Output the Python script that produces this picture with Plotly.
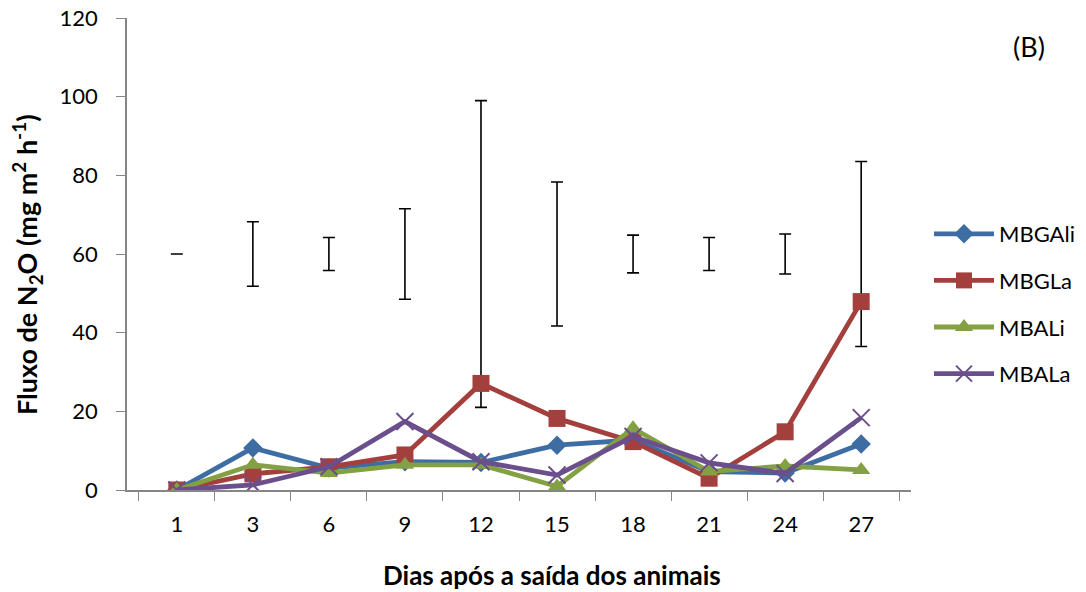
import plotly.graph_objects as go

days = ["1", "3", "6", "9", "12", "15", "18", "21", "24", "27"]
mbgali = [0, 10.7, 5.6, 7.2, 7.0, 11.4, 12.7, 4.7, 4.3, 11.7]
mbgla = [0, 4.1, 5.9, 8.9, 27.1, 18.2, 12.3, 3.0, 14.8, 47.9]
mbali = [0, 6.4, 4.3, 6.4, 6.4, 0.9, 15.7, 4.7, 6.1, 5.1]
mbala = [0, 1.3, 5.9, 17.4, 7.2, 3.8, 13.6, 6.9, 4.2, 18.4]
err_center = [60, 60, 60, 60, 60, 60, 60, 60, 60, 60]
err_size = [0, 8.2, 4.2, 11.5, 39.0, 18.3, 4.8, 4.2, 5.1, 23.5]

y_ticks = [0, 20, 40, 60, 80, 100, 120]

FONT = "Lato, 'Open Sans', sans-serif"

# page is drawn with an 8px body margin; the plot area spans page x 127..911, y 18..490
W, H = 1078, 584
L, T, PW, PH = 119, 10, 784, 472


def px(X):
    return (X - 127) / PW


def py(Y):
    return (490 - Y) / PH


fig = go.Figure()

fig.add_trace(go.Scatter(
    x=days, y=err_center, mode="markers",
    marker=dict(size=1, opacity=0),
    error_y=dict(type="data", array=err_size, visible=True,
                 color="black", thickness=1.6, width=6),
    showlegend=False, hoverinfo="skip"))

series = [
    ("MBGAli", mbgali, "#3E6DA4", "diamond", 15),
    ("MBGLa", mbgla, "#A3403D", "square", 17),
    ("MBALi", mbali, "#83A043", "triangle-up", 16),
    ("MBALa", mbala, "#6B4F8C", "x-thin", 17),
]
for name, vals, col, sym, sz in series:
    mk = dict(symbol=sym, size=sz, color=col)
    if sym == "x-thin":
        mk["line"] = dict(color=col, width=2)
    fig.add_trace(go.Scatter(
        x=days, y=vals, mode="lines+markers", name=name,
        line=dict(color=col, width=4.8),
        marker=mk, legendgroup=name))

fig.update_layout(
    width=W, height=H,
    margin=dict(l=L, r=W - L - PW, t=T, b=H - T - PH, autoexpand=False),
    paper_bgcolor="white", plot_bgcolor="white",
    font=dict(family=FONT, size=22, color="black"),
    showlegend=True,
    legend=dict(x=px(929), y=py(213), xanchor="left", yanchor="top",
                font=dict(size=22), tracegroupgap=15,
                bgcolor="rgba(0,0,0,0)", itemwidth=60),
    annotations=[
        dict(text="(B)", x=px(1029), y=py(47), xref="paper", yref="paper",
             showarrow=False, font=dict(size=27, family=FONT),
             xanchor="center", yanchor="middle"),
        dict(text="<b>Dias após a saída dos animais</b>", x=px(552), y=py(575),
             xref="paper", yref="paper", showarrow=False,
             font=dict(size=26, family=FONT), xanchor="center", yanchor="middle"),
        dict(text="<b>Fluxo de N<sub>2</sub>O (mg m<sup>2</sup> h<sup>-1</sup>)</b>",
             x=px(27), y=py(265), xref="paper", yref="paper", showarrow=False,
             textangle=-90, font=dict(size=27, family=FONT),
             xanchor="center", yanchor="middle"),
    ],
)

fig.update_xaxes(
    type="category", categoryorder="array", categoryarray=days,
    tickson="boundaries", ticks="outside", ticklen=9, tickcolor="#868686",
    showline=True, linecolor="#868686", linewidth=1.5,
    showgrid=False, zeroline=False, automargin=False,
    tickfont=dict(size=22), ticklabelstandoff=14,
)
fig.update_yaxes(
    range=[0, 120], tickvals=y_ticks, ticks="outside", ticklen=9, tickcolor="#868686",
    showline=True, linecolor="#868686", linewidth=1.5,
    showgrid=False, zeroline=False, automargin=False,
    tickfont=dict(size=22), ticklabelstandoff=14, ticklabeloverflow="allow",
)

fig.write_html("out.html")
